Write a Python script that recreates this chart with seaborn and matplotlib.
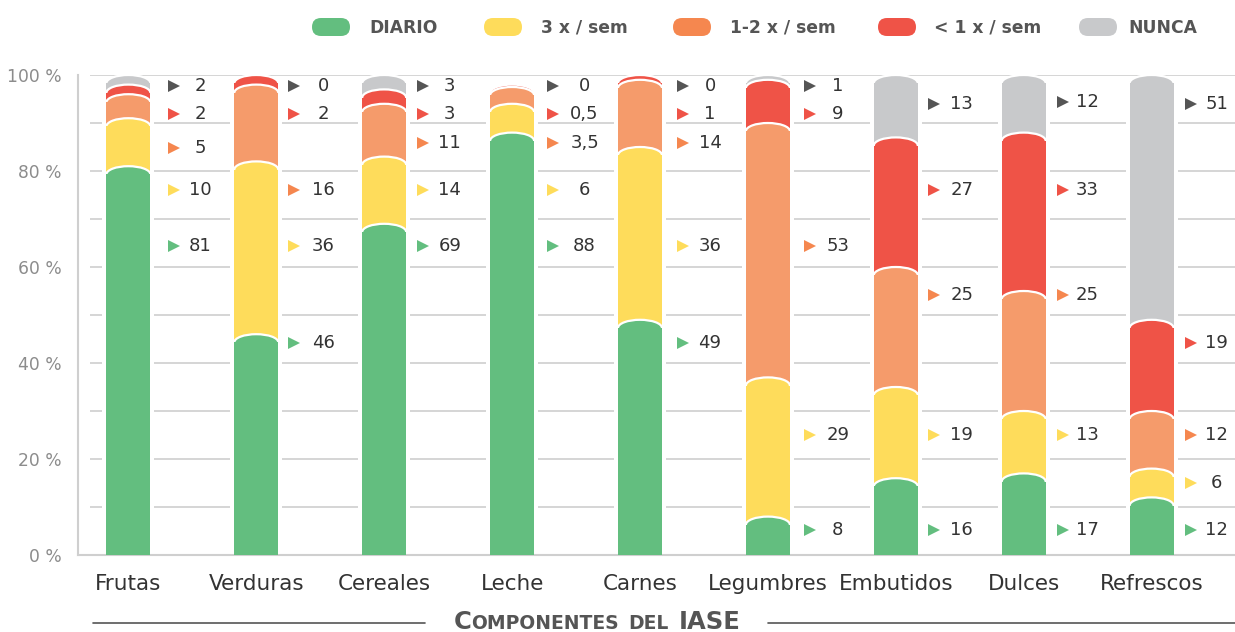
import numpy as np
import matplotlib
matplotlib.use("Agg")
import matplotlib.pyplot as plt
from matplotlib.patches import Ellipse, FancyBboxPatch
from matplotlib.transforms import IdentityTransform
from matplotlib.offsetbox import TextArea, HPacker, AnchoredOffsetbox
import seaborn as sns

# ---- data -------------------------------------------------------------
categories = ["Frutas", "Verduras", "Cereales", "Leche", "Carnes",
              "Legumbres", "Embutidos", "Dulces", "Refrescos"]
series_names = ["DIARIO", "3 x / sem", "1-2 x / sem", "< 1 x / sem", "NUNCA"]

diario = [81, 46, 69, 88, 49, 8, 16, 17, 12]
tres_sem = [10, 36, 14, 6, 36, 29, 19, 13, 6]
uno_dos_sem = [5, 16, 11, 3.5, 14, 53, 25, 25, 12]
menos_uno_sem = [2, 2, 3, 0.5, 1, 9, 27, 33, 19]
nunca = [2, 0, 3, 0, 0, 1, 13, 12, 51]

y_ticks = [0, 20, 40, 60, 80, 100]
y_tick_labels = ["0 %", "20 %", "40 %", "60 %", "80 %", "100 %"]

# vertical placement (in %) of each value label, per series
lbl_diario = [64.4, 44.2, 64.4, 64.4, 44.2, 5.2, 5.2, 5.2, 5.2]
lbl_tres = [76.0, 64.4, 76.0, 76.0, 64.4, 25.0, 25.0, 25.0, 15.0]
lbl_uno_dos = [84.8, 76.0, 85.8, 85.8, 85.8, 64.4, 54.2, 54.2, 25.0]
lbl_menos_uno = [91.9, 91.9, 91.9, 91.9, 91.9, 91.9, 76.0, 76.0, 44.2]
lbl_nunca = [97.7, 97.7, 97.7, 97.7, 97.7, 97.7, 94.0, 94.4, 94.0]

# horizontal offsets (px from bar centre) of the marker and the value text
marker_dx = [45.6, 38, 39, 41, 43, 42, 38, 39.5, 39.5]
text_dx = [71.6, 67, 65.5, 72.5, 70, 70, 66, 63.5, 65]

# ---- styling ----------------------------------------------------------
bar_colors = ["#63BE7F", "#FEDC5B", "#F59B6B", "#EF5347", "#C8C9CB"]
mark_colors = ["#63BE7F", "#FEDC5B", "#F5874F", "#EF5347", "#555555"]
legend_colors = ["#63BE7F", "#FEDC5B", "#F5874F", "#EF5347", "#C8C9CB"]

sns.set_theme(style="white")
plt.rcParams["font.family"] = ["DejaVu Sans"]

W, H = 1235, 632
fig = plt.figure(figsize=(W / 100, H / 100), dpi=100)
ax = fig.add_axes([78 / W, 77 / H, (W - 78) / W, 480 / H])

px_per_unit = 127.9    # category spacing in pixels
x_left = -(128.4 - 78) / px_per_unit
x_right = (W - 128.4) / px_per_unit
bar_w = 44 / px_per_unit
cap = 1.7              # height of the rounded cap, in %

values = [diario, tres_sem, uno_dos_sem, menos_uno_sem, nunca]
labels_y = [lbl_diario, lbl_tres, lbl_uno_dos, lbl_menos_uno, lbl_nunca]
cum = np.cumsum(np.array(values, dtype=float), axis=0)

# white backing so that gridlines stop short of every bar
sns.barplot(x=categories, y=[99] * len(categories), color="white",
            width=bar_w + 8 / px_per_unit, saturation=1, errorbar=None,
            linewidth=0, zorder=2, ax=ax)

# draw cumulative layers from the top one down, each with a rounded top
for k, s in enumerate(range(len(values) - 1, -1, -1)):
    heights = cum[s] - cap
    n0 = len(ax.patches)
    sns.barplot(x=categories, y=heights, color=bar_colors[s], width=bar_w,
                saturation=1, errorbar=None, linewidth=0,
                zorder=3 + k + 0.5, ax=ax)
    for i, p in enumerate(ax.patches[n0:]):
        if values[s][i] == 0:
            continue
        xc = p.get_x() + p.get_width() / 2
        ax.add_patch(Ellipse((xc, cum[s][i] - cap), bar_w, 2 * cap,
                             facecolor=bar_colors[s], edgecolor="white",
                             linewidth=1.6, zorder=3 + k, clip_on=False))


def fmt(v):
    return str(int(v)) if float(v).is_integer() else str(v).replace(".", ",")


# value labels with a small triangle marker
for s in range(len(values)):
    for i in range(len(categories)):
        y = labels_y[s][i]
        ax.plot(i + marker_dx[i] / px_per_unit, y, marker=">",
                color=mark_colors[s], ms=9, markeredgewidth=0, zorder=20,
                clip_on=False)
        ax.text(i + text_dx[i] / px_per_unit, y, fmt(values[s][i]),
                ha="center", va="center", fontsize=13, color="#333333",
                zorder=20)

# axes & grid
ax.set_xlim(x_left, x_right)
ax.set_ylim(0, 100)
ax.hlines(np.arange(10, 101, 10), x_left + 12 / px_per_unit, x_right,
          color="#D2D2D2", linewidth=1.3, zorder=1)
for side in ["top", "right"]:
    ax.spines[side].set_visible(False)
for side in ["left", "bottom"]:
    ax.spines[side].set_color("#CFCFCF")
    ax.spines[side].set_linewidth(1.5)
ax.set_yticks(y_ticks)
ax.set_yticklabels(y_tick_labels)
ax.tick_params(axis="y", length=0, pad=12, labelsize=12.3,
               labelcolor="#8C8C8C")
ax.tick_params(axis="x", length=0, pad=14, labelsize=15.5,
               labelcolor="#333333")
ax.set_xlabel("")
ax.set_ylabel("")
ax.grid(False)

# legend: rounded swatches and bold labels
pill_cx = [331, 503, 692, 897, 1098]
text_x = [369, 541, 730, 934, 1128]
for name, col, cx, tx in zip(series_names, legend_colors, pill_cx, text_x):
    fig.add_artist(FancyBboxPatch((cx - 19, H - 36), 38, 18,
                                  boxstyle="round,pad=0,rounding_size=9",
                                  facecolor=col, edgecolor="none",
                                  transform=IdentityTransform()))
    fig.text(tx / W, 1 - 28 / H, name, ha="left", va="center",
             fontsize=12.3, fontweight="bold", color="#555555")

# axis title in small caps between two rules
big = dict(fontsize=17.5, fontweight="bold", color="#555555")
small = dict(fontsize=13.5, fontweight="bold", color="#555555")
word1 = HPacker(children=[TextArea("C", textprops=big),
                          TextArea("OMPONENTES", textprops=small)],
                align="baseline", pad=0, sep=0)
title = HPacker(children=[word1, TextArea("DEL", textprops=small),
                          TextArea("IASE", textprops=big)],
                align="baseline", pad=0, sep=7)
fig.add_artist(AnchoredOffsetbox(loc="center", child=title, frameon=False,
                                 bbox_to_anchor=(597 / W, 1 - 622 / H),
                                 bbox_transform=fig.transFigure,
                                 borderpad=0, pad=0))
fig.add_artist(plt.Line2D([93 / W, 425 / W], [1 - 623 / H] * 2,
                          transform=fig.transFigure, color="#555555", lw=1.2))
fig.add_artist(plt.Line2D([768 / W, 1.0], [1 - 623 / H] * 2,
                          transform=fig.transFigure, color="#555555", lw=1.2))

fig.savefig("out.png", dpi=100)
